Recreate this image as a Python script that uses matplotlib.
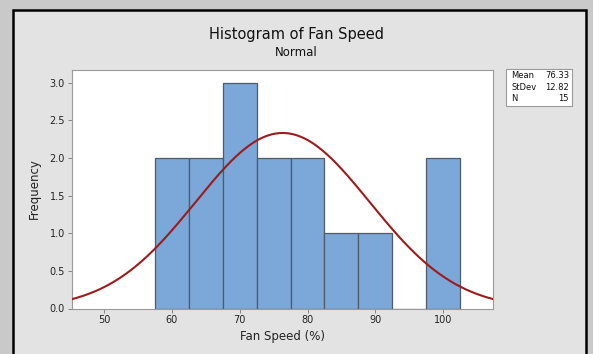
import numpy as np
import matplotlib
matplotlib.use('Agg')
import matplotlib.pyplot as plt
from matplotlib.patches import Rectangle

# histogram data
bin_starts = [57.5, 62.5, 67.5, 72.5, 77.5, 82.5, 87.5, 92.5, 97.5]
counts = [2, 2, 3, 2, 2, 1, 1, 0, 2]
bin_width = 5
mean = 76.33
stdev = 12.82
n = 15
x_ticks = [50, 60, 70, 80, 90, 100]
y_ticks = [0.0, 0.5, 1.0, 1.5, 2.0, 2.5, 3.0]

plt.rcParams['font.family'] = ['DejaVu Sans']

fig = plt.figure(figsize=(5.93, 3.54), dpi=100)
fig.patch.set_facecolor('#c9c9c9')

# panel with black border (behind the axes)
frame = Rectangle((13 / 593, -0.05), (586 - 13) / 593, 1.05 - 10 / 354,
                  transform=fig.transFigure, facecolor='#e3e3e3',
                  edgecolor='black', linewidth=1.8, zorder=-10)
fig.patches.append(frame)

ax = fig.add_axes([72 / 593, 1 - 308.5 / 354, (493.5 - 72) / 593, (308.5 - 69.5) / 354])
ax.set_facecolor('white')

ax.bar(bin_starts, counts, width=bin_width, align='edge',
       color='#7ba7d9', edgecolor='#4f5b66', linewidth=0.9, zorder=2)

xs = np.linspace(45, 108, 400)
ys = n * bin_width / (stdev * np.sqrt(2 * np.pi)) * np.exp(-0.5 * ((xs - mean) / stdev) ** 2)
ax.plot(xs, ys, color='#9e1b1b', linewidth=1.5, zorder=3)

ax.set_xlim(45.3, 107.4)
ax.set_ylim(0, 3.178)
ax.set_xticks(x_ticks)
ax.set_yticks(y_ticks)
ax.set_yticklabels(['%.1f' % v for v in y_ticks])
ax.tick_params(labelsize=7, length=3, width=0.6, color='#777777', labelcolor='#222222', pad=2)
for s in ax.spines.values():
    s.set_color('#9a9a9a')
    s.set_linewidth(0.8)

ax.set_xlabel('Fan Speed (%)', fontsize=8.5, color='#222222', labelpad=3)
ax.set_ylabel('Frequency', fontsize=8.5, color='#222222', labelpad=6)

fig.text(0.5, 1 - 35 / 354, 'Histogram of Fan Speed', ha='center', va='center',
         fontsize=10.5, color='#111111')
fig.text(0.5, 1 - 52 / 354, 'Normal', ha='center', va='center',
         fontsize=8.5, color='#111111')

# stats box
box = Rectangle((506 / 593, 1 - 106 / 354), 66 / 593, 37 / 354,
                transform=fig.transFigure, facecolor='white',
                edgecolor='#9a9a9a', linewidth=0.8, zorder=1)
fig.patches.append(box)
labels = ['Mean', 'StDev', 'N']
values = ['%.2f' % mean, '%.2f' % stdev, '%d' % n]
for i, (lab, val) in enumerate(zip(labels, values)):
    yy = 1 - (76 + i * 11.5) / 354
    fig.text(511 / 593, yy, lab, ha='left', va='center', fontsize=6, color='#111111')
    fig.text(569 / 593, yy, val, ha='right', va='center', fontsize=6, color='#111111')

fig.savefig('out.png', dpi=100, facecolor=fig.get_facecolor())
